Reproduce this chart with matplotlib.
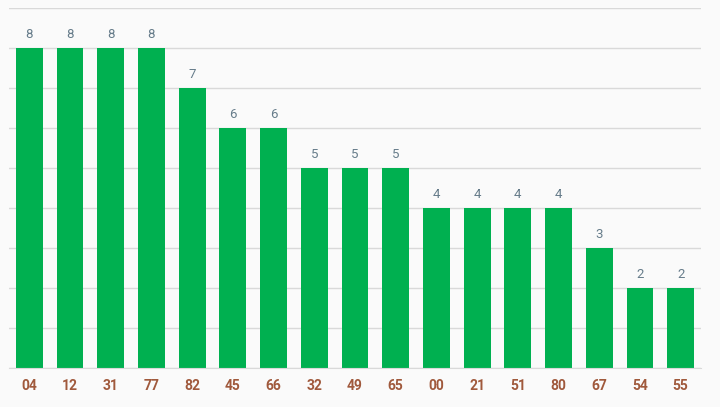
import matplotlib
matplotlib.use("Agg")
import matplotlib.pyplot as plt

plt.rcParams['font.family'] = ['Roboto', 'DejaVu Sans']

# data
labels = ["04", "12", "31", "77", "82", "45", "66", "32", "49", "65",
          "00", "21", "51", "80", "67", "54", "55"]
counts = [8, 8, 8, 8, 7, 6, 6, 5, 5, 5, 4, 4, 4, 4, 3, 2, 2]

BG = "#fafafa"
fig = plt.figure(figsize=(7.2, 4.07), dpi=100, facecolor=BG)
ax = fig.add_axes([9 / 720, 39 / 407, 692 / 720, 360 / 407], facecolor=BG)

x = range(len(labels))
ax.bar(x, counts, width=0.66, color="#00b050", zorder=2)

for xi, v in zip(x, counts):
    ax.annotate(str(v), (xi, v), xytext=(0, 5), textcoords="offset points",
                ha="center", va="bottom", fontsize=9.5, color="#667c8a")

ax.set_xlim(-0.5, len(labels) - 0.5)
ax.set_ylim(0, 9)
ax.set_yticks(range(0, 10))
ax.yaxis.grid(True, color="#d9d9d9", linewidth=1, zorder=0)
ax.tick_params(axis="y", left=False, labelleft=False)
ax.tick_params(axis="x", length=0, pad=8)
ax.set_xticks(list(x))
ax.set_xticklabels(labels, fontsize=10, fontweight="bold", color="#a0593c")
for s in ["top", "right", "left"]:
    ax.spines[s].set_visible(False)
ax.spines["bottom"].set_color("#d9d9d9")

fig.savefig("out.png", dpi=100, facecolor=BG)
